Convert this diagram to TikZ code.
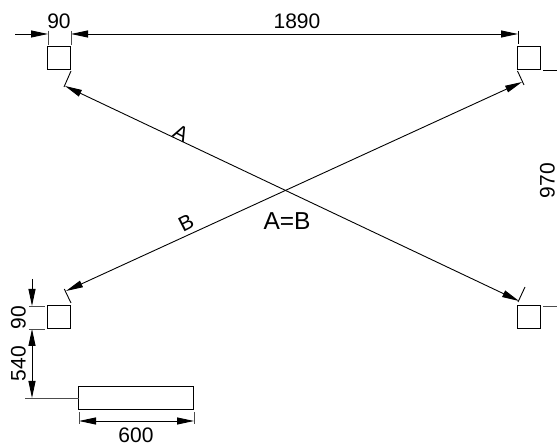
\documentclass[tikz,border=0pt]{standalone}
\usepackage{fontspec}
\setmainfont{Liberation Sans}
\usetikzlibrary{arrows.meta}
\tikzset{
  x=1pt,y=-1pt,
  dimline/.style={line width=0.9pt,black},
  tipped/.style={dimline,-{Triangle[length=17pt,width=7pt]}},
  twotip/.style={dimline,{Triangle[length=17pt,width=7pt]}-{Triangle[length=17pt,width=7pt]}},
  extline/.style={line width=0.9pt,black!70},
  sq/.style={draw,line width=1pt,minimum size=23pt,inner sep=0pt,outer sep=0pt},
  beam/.style={draw,line width=1pt,minimum width=115pt,minimum height=23.5pt,inner sep=0pt,outer sep=0pt},
  lab/.style={font=\fontsize{21}{23}\selectfont,inner sep=0pt}
}
\begin{document}
\begin{tikzpicture}
\useasboundingbox (0,0) rectangle (557,443);
% squares and beam
\node[sq] (tl) at (59.3,58) {};
\node[sq] (tr) at (529.3,58) {};
\node[sq] (bl) at (59.3,317.5) {};
\node[sq] (br) at (529.3,317.5) {};
\node[beam] (bm) at (136.3,397.8) {};
% top dimension
\coordinate (t0) at (15,34);
\coordinate (t1) at (48,34);
\coordinate (t2) at (71,34);
\coordinate (t3) at (518,34);
\draw[tipped] (t0) -- (t1);
\draw[twotip] (t2) -- (t3);
\draw[extline] (48,31) -- (48,45);
\draw[extline] (71,31) -- (71,45);
\draw[dimline] (518,31) -- (518,44);
\node[lab] (d90t) at (59,21) {90};
\node[lab] (d1890) at (297,21) {1890};
% right stubs
\coordinate (rs1) at (557,70);
\coordinate (rs1a) at (543,70);
\coordinate (rs2) at (557,306);
\coordinate (rs2a) at (543,306);
\draw[dimline] (rs1a) -- (rs1);
\draw[extline] (rs2a) -- (rs2);
\node[lab,rotate=90] (d970) at (547.5,180.5) {970};
% diagonals
\coordinate (a0) at (65,86);
\coordinate (a1) at (519,301);
\coordinate (b0) at (66,291);
\coordinate (b1) at (522,82);
\draw[twotip] (a0) -- (a1);
\draw[twotip] (b0) -- (b1);
\draw[dimline] (71,71) -- (64,87);
\draw[dimline] (525,287) -- (518,302);
\draw[dimline] (71,303) -- (64.3,289);
\draw[dimline] (517.5,71) -- (524,85);
\node[lab,rotate=-27] (la) at (181,133) {A};
\node[lab,rotate=27] (lb) at (186,223) {B};
\node[font=\fontsize{24.5}{26}\selectfont,inner sep=0pt] (eq) at (287,221) {A=B};
% left dimension
\coordinate (v0) at (32,279);
\coordinate (v1) at (32,306);
\coordinate (v2) at (32,329);
\coordinate (v3) at (32,398);
\draw[tipped] (v0) -- (v1);
\draw[twotip] (v2) -- (v3);
\draw[extline] (29,306) -- (45,306);
\draw[extline] (29,329) -- (45,329);
\draw[extline] (25,398) -- (bm.west |- 0,398);
\node[lab,rotate=90] (d90l) at (18.5,317.5) {90};
\node[lab,rotate=90] (d540) at (18.5,363.5) {540};
% bottom dimension
\coordinate (h0) at (79,421);
\coordinate (h1) at (194,421);
\draw[twotip] (h0) -- (h1);
\draw[extline] (79,412) -- (79,424);
\draw[extline] (194,412) -- (194,424);
\node[lab] (d600) at (136,435) {600};
\end{tikzpicture}
\end{document}
